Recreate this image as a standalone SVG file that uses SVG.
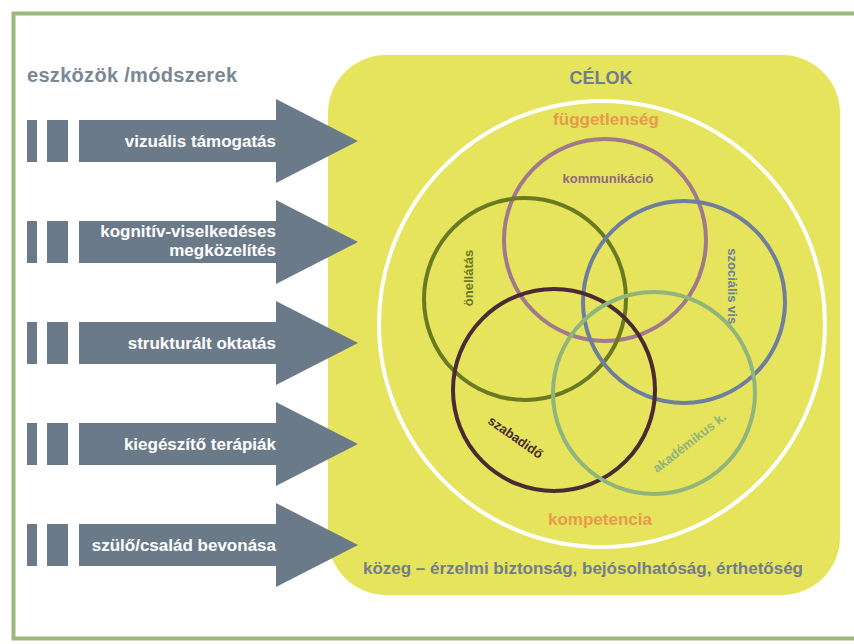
<svg xmlns="http://www.w3.org/2000/svg" width="854" height="644" viewBox="0 0 854 644">
<defs>
<style>
.t{font-family:"Liberation Sans",Arial,sans-serif;font-weight:bold}
.at{fill:#ffffff;font-size:17px;text-anchor:end}
.arrow{fill:#6b7a89}
.ring{fill:none;stroke-width:4}
.lab{font-size:13px;text-anchor:middle}
</style>
<path id="arr" d="M0,-21 H197 V-42 L279,0 L197,42 V21 H0 Z"/>
</defs>
<rect x="0" y="0" width="854" height="644" fill="#ffffff"/>
<rect id="frame" x="13.5" y="13.5" width="860" height="625" fill="none" stroke="#9aba7c" stroke-width="4"/>
<text class="t" x="27" y="82" font-size="20" fill="#7a8794" textLength="210">eszközök /módszerek</text>

<g id="goals">
<rect x="328" y="55" width="512" height="540" rx="58" ry="58" fill="#e6e35c"/>
<text class="t" x="601" y="84" font-size="18" fill="#6f7d8d" text-anchor="middle">CÉLOK</text>
<circle cx="602" cy="324" r="223" fill="none" stroke="#ffffff" stroke-width="4"/>
<text class="t" x="606" y="125" font-size="17" fill="#e89a4c" text-anchor="middle">függetlenség</text>
<text class="t" x="600" y="525" font-size="17" fill="#e89a4c" text-anchor="middle">kompetencia</text>
<text class="t" x="363" y="574" font-size="17" fill="#707e8c" textLength="440">közeg – érzelmi biztonság, bejósolhatóság, érthetőség</text>
</g>

<g id="c-kommunikacio">
<circle class="ring" cx="605" cy="240" r="101" stroke="#a2788c"/>
<text class="t lab" x="608" y="183" fill="#8e6a7c">kommunikáció</text>
</g>
<g id="c-onellatas">
<circle class="ring" cx="525" cy="299" r="101" stroke="#6a7a22"/>
<text class="t lab" transform="translate(473,278) rotate(-90)" fill="#6a7a22">önellátás</text>
</g>
<g id="c-szocialis">
<circle class="ring" cx="684" cy="302" r="101" stroke="#6e7f9e"/>
<text class="t lab" transform="translate(728,288) rotate(90)" fill="#6e7f9e">szociális vis.</text>
</g>
<g id="c-szabadido">
<circle class="ring" cx="554" cy="390" r="101" stroke="#4a2a33"/>
<text class="t lab" transform="translate(513,441) rotate(35)" fill="#4a2a33">szabadidő</text>
</g>
<g id="c-akademikus">
<circle class="ring" cx="654" cy="393" r="101" stroke="#8fb47c"/>
<text class="t lab" transform="translate(692,446) rotate(-38)" fill="#8fb47c">akadémikus k.</text>
</g>

<g id="connectors">
<g id="a1" transform="translate(0,141)">
<rect class="arrow" x="27" y="-21" width="10" height="42"/><rect class="arrow" x="47" y="-21" width="21" height="42"/>
<use href="#arr" x="79" class="arrow"/>
<text class="t at" x="276" y="5.5">vizuális támogatás</text>
</g>
<g id="a2" transform="translate(0,242)">
<rect class="arrow" x="27" y="-21" width="10" height="42"/><rect class="arrow" x="47" y="-21" width="21" height="42"/>
<use href="#arr" x="79" class="arrow"/>
<text class="t at" x="276" y="-5">kognitív-viselkedéses</text>
<text class="t at" x="276" y="14">megközelítés</text>
</g>
<g id="a3" transform="translate(0,343)">
<rect class="arrow" x="27" y="-21" width="10" height="42"/><rect class="arrow" x="47" y="-21" width="21" height="42"/>
<use href="#arr" x="79" class="arrow"/>
<text class="t at" x="276" y="5.5">strukturált oktatás</text>
</g>
<g id="a4" transform="translate(0,444)">
<rect class="arrow" x="27" y="-21" width="10" height="42"/><rect class="arrow" x="47" y="-21" width="21" height="42"/>
<use href="#arr" x="79" class="arrow"/>
<text class="t at" x="276" y="5.5">kiegészítő terápiák</text>
</g>
<g id="a5" transform="translate(0,545)">
<rect class="arrow" x="27" y="-21" width="10" height="42"/><rect class="arrow" x="47" y="-21" width="21" height="42"/>
<use href="#arr" x="79" class="arrow"/>
<text class="t at" x="276" y="5.5">szülő/család bevonása</text>
</g>
</g>
</svg>
